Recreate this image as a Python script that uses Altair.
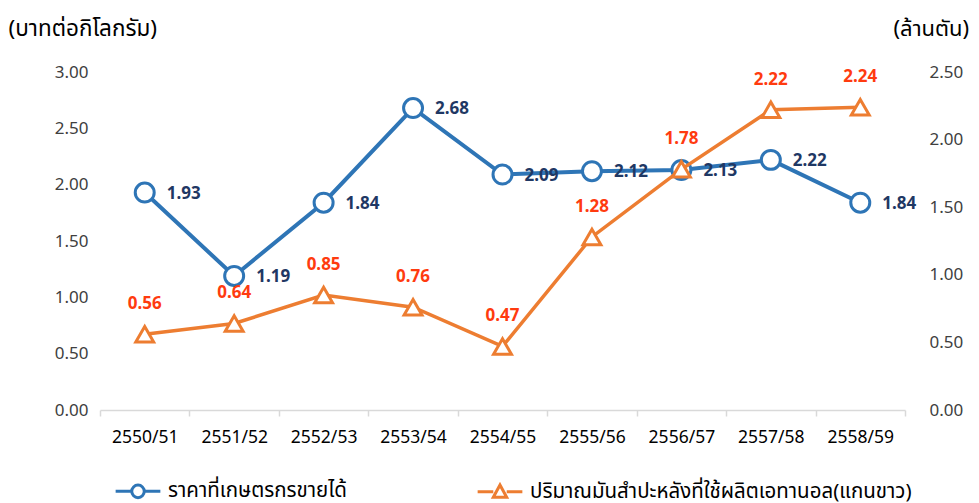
import altair as alt
import pandas as pd

years = ["2550/51", "2551/52", "2552/53", "2553/54", "2554/55",
         "2555/56", "2556/57", "2557/58", "2558/59"]
price = [1.93, 1.19, 1.84, 2.68, 2.09, 2.12, 2.13, 2.22, 1.84]
volume = [0.56, 0.64, 0.85, 0.76, 0.47, 1.28, 1.78, 2.22, 2.24]
s_price = "ราคาที่เกษตรกรขายได้"
s_vol = "ปริมาณมันสำปะหลังที่ใช้ผลิตเอทานอล(แกนขาว)"
left_title = "(บาทต่อกิโลกรัม)"
right_title = "(ล้านตัน)"

BLUE = "#2E75B6"
ORANGE = "#ED7D31"
FONT = "Noto Sans, Noto Sans Thai, sans-serif"

df = pd.DataFrame({"year": years, "price": price, "volume": volume})
leg_df = pd.DataFrame({"series": [s_price, s_vol]})

x = alt.X("year:N", sort=years, title=None,
          scale=alt.Scale(paddingInner=0, paddingOuter=0),
          axis=alt.Axis(labelAngle=0, labelFontSize=17.5, labelColor="#000000",
                        labelPadding=12, domainColor="#D9D9D9", domainWidth=1.5,
                        tickColor="#D9D9D9", tickSize=6, tickBand="extent",
                        tickWidth=1.5, grid=False, labelFont=FONT))

yl = alt.Y("price:Q", title=left_title,
           scale=alt.Scale(domain=[0, 3]),
           axis=alt.Axis(values=[0, 0.5, 1, 1.5, 2, 2.5, 3], format=".2f",
                         grid=False, domain=False, ticks=False,
                         labelFontSize=17, labelColor="#404040", labelPadding=12,
                         labelFont=FONT,
                         titleAngle=0, titleX=-92, titleY=-44, titleAlign="left",
                         titleBaseline="middle", titleFontSize=22.5,
                         titleFontWeight="normal", titleColor="#000000",
                         titleFont=FONT))

yr = alt.Y("volume:Q", title=right_title,
           scale=alt.Scale(domain=[0, 2.5]),
           axis=alt.Axis(orient="right", values=[0, 0.5, 1, 1.5, 2, 2.5],
                         format=".2f", grid=False, domain=False, ticks=False,
                         labelFontSize=17, labelColor="#404040", labelPadding=24,
                         labelFont=FONT,
                         titleAngle=0, titleX=-12, titleY=-44, titleAlign="left",
                         titleBaseline="middle", titleFontSize=22,
                         titleFontWeight="normal", titleColor="#000000",
                         titleFont=FONT))

base = alt.Chart(df)

blue = alt.layer(
    base.mark_line(color=BLUE, strokeWidth=4).encode(x=x, y=yl),
    base.mark_point(shape="circle", size=360, filled=True, fill="white",
                    stroke=BLUE, strokeWidth=3, opacity=1).encode(x=x, y=yl),
    base.mark_text(align="left", dx=22, dy=1, fontSize=17, fontWeight="bold",
                   color="#1F3864", font=FONT).encode(
        x=x, y=yl, text=alt.Text("price:Q", format=".2f")),
)

orange = alt.layer(
    base.mark_line(color=ORANGE, strokeWidth=3.5).encode(x=x, y=yr),
    base.mark_point(shape="triangle-up", size=320, filled=True, fill="white",
                    stroke=ORANGE, strokeWidth=3, opacity=1).encode(x=x, y=yr),
    base.mark_text(align="center", dy=-30, fontSize=17, fontWeight="bold",
                   color="#FF3B0F", font=FONT).encode(
        x=x, y=yr, text=alt.Text("volume:Q", format=".2f")),
)

circ_path = ("M-1,0H-0.28 M0.28,0H1 M0.28,0 A0.28,0.28 0 1,1 -0.28,0 "
             "A0.28,0.28 0 1,1 0.28,0")
tri_path = "M-1,0H-0.3 M0.3,0H1 M0,-0.3 L0.3,0.25 L-0.3,0.25 Z"

leg = alt.Legend(title=None, orient="none", legendX=14,
                 legendY=395, direction="horizontal",
                 symbolSize=2000, symbolStrokeWidth=3,
                 symbolFillColor="white", symbolOpacity=1,
                 labelFontSize=20.5, labelColor="#000000",
                 labelFont=FONT, columnPadding=124,
                 labelOffset=6, labelLimit=600)

legend_layer = alt.Chart(leg_df).mark_point(opacity=0, filled=False).encode(
    color=alt.Color("series:N", sort=[s_price, s_vol],
                    scale=alt.Scale(domain=[s_price, s_vol], range=[BLUE, ORANGE]),
                    legend=leg),
    shape=alt.Shape("series:N", sort=[s_price, s_vol],
                    scale=alt.Scale(domain=[s_price, s_vol],
                                    range=[circ_path, tri_path]),
                    legend=leg),
)

chart = alt.layer(blue, orange, legend_layer).resolve_scale(
    y="independent"
).properties(
    width=805, height=338,
    autosize=alt.AutoSizeParams(type="none"),
    padding={"left": 100, "top": 72, "right": 74, "bottom": 93},
    background="white",
).configure_view(stroke=None)

chart.save("out.html", embed_options={"renderer": "svg", "actions": False})
